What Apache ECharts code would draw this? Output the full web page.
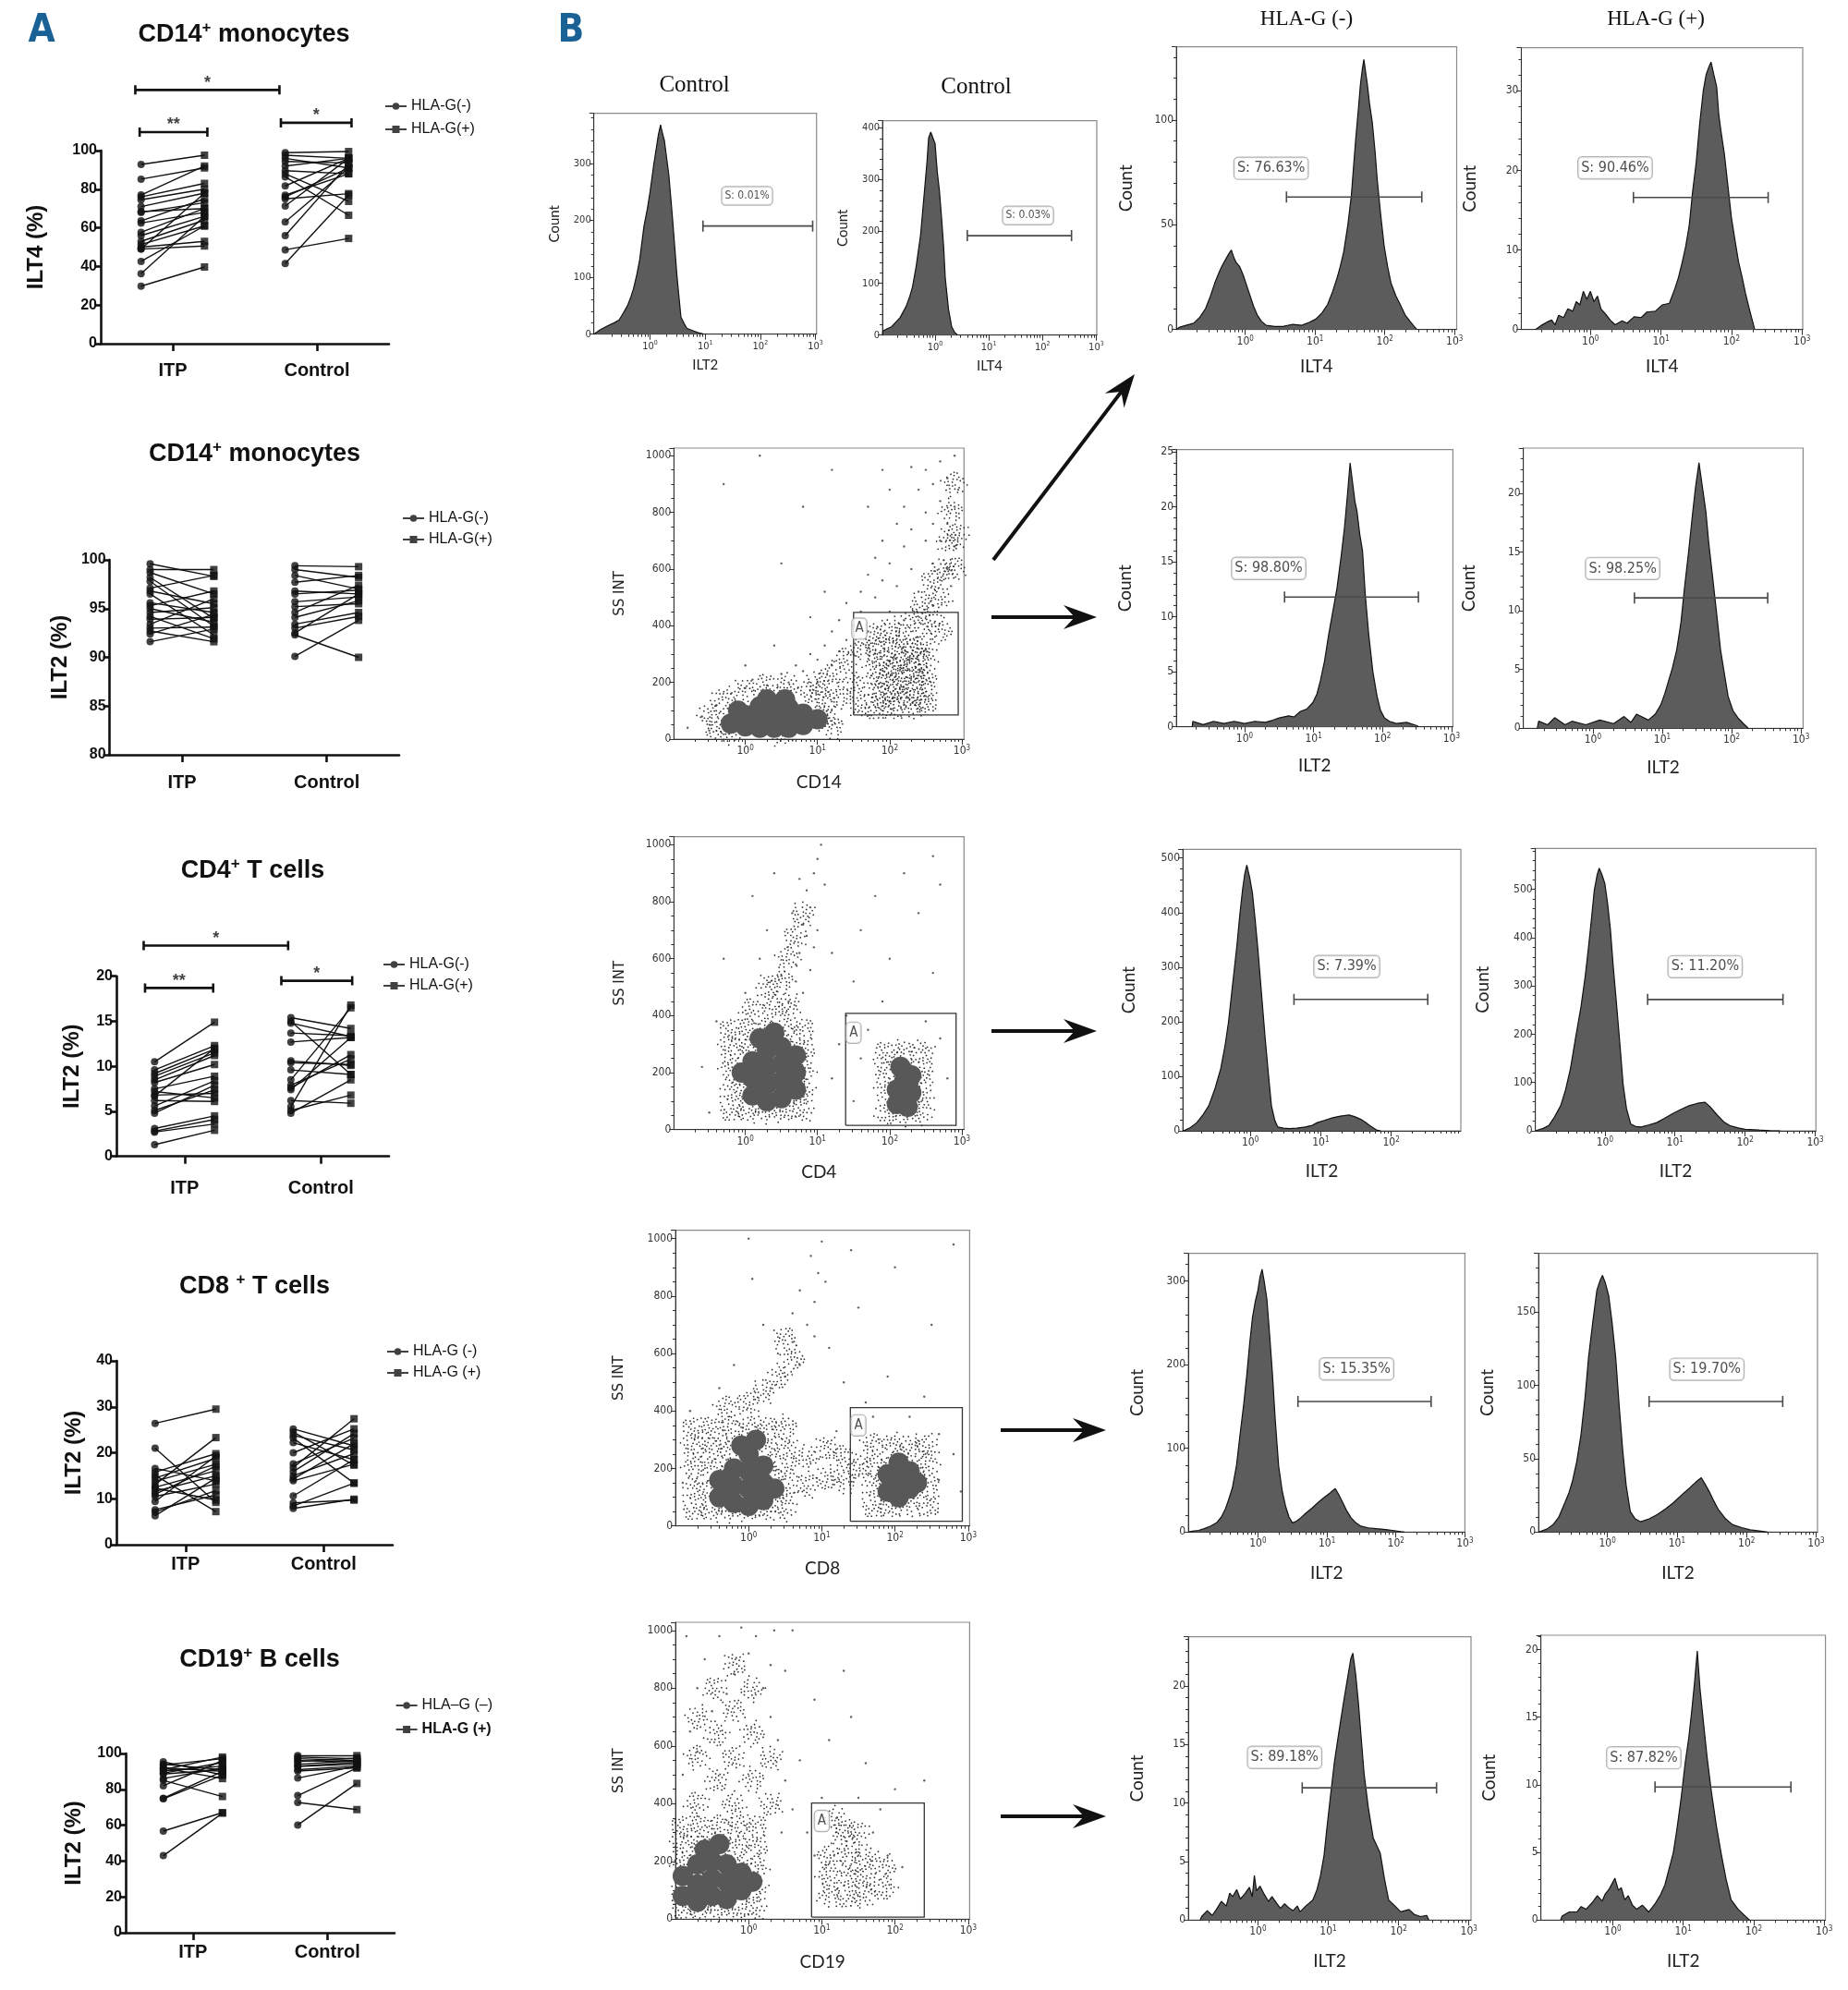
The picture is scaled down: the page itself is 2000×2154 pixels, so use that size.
<!DOCTYPE html>
<html>
<head>
<meta charset="utf-8">
<title>ILT2 / ILT4 expression</title>
<script src="https://cdn.jsdelivr.net/npm/echarts@6.0.0/dist/echarts.min.js"></script>
<style>html,body{margin:0;padding:0;background:#fff;}#chart{width:2000px;height:2154px;}</style>
</head>
<body>
<div id="chart"></div>
<script>
// ---------------- DATA ----------------
const groups = ['ITP', 'Control'];

// A: paired values, HLA-G(-) -> HLA-G(+) per subject
const ilt4Cd14ItpNeg = [92.8,85.2,77,76,74.5,71,68.4,68,63.6,62.5,57.7,56,53,51.4,50,49,49,42.6,36.2,29.8];
const ilt4Cd14ItpPos = [97.6,91,92,83,80,78,70,73,75,68,70,66,64,61,53,50.6,78,61,66,39.7];
const ilt4Cd14CtrlNeg = [98.9,97.6,96,94.4,92,89.6,88,86.4,81.7,76.9,76,75,71.3,63,56,48.6,41.5];
const ilt4Cd14CtrlPos = [99.5,96,91,93.6,96,88,73.7,66.5,96,88,91,77.7,96,91,93,54.5,77];
const ilt4Cd14Brackets = [[0.27,0.74,109.6,'**'],[1.25,1.74,114.4,'*'],[0.24,1.24,131.4,'*']];

const ilt2Cd14ItpNeg = [99.6,99,98.7,98.2,97.8,97.1,96.8,96.5,95.6,95.3,95,94.6,94.2,93.9,93.4,93,92.7,92.4,91.6];
const ilt2Cd14ItpPos = [98.3,99,96.5,94,93.2,98.4,95.5,92.3,94.6,96.8,93.6,95.1,91.9,94.1,96,93.1,91.6,94.4,92.9];
const ilt2Cd14CtrlNeg = [99.4,99,98.4,97.7,96.8,96.5,95.7,95.2,94.6,94.1,93.4,93,92.3,92.5,90.1];
const ilt2Cd14CtrlPos = [99.3,98.2,97,98.4,96.5,96.9,96.2,95.5,97.4,95.8,94.6,94.2,90,96.5,93.8];

const ilt2Cd4ItpNeg = [10.5,9.6,9.2,8.9,8.5,8.2,7.5,7.2,6.8,6.7,6.2,5.6,5.1,4.8,3.1,2.8,2.7,1.3];
const ilt2Cd4ItpPos = [14.9,12.3,11.9,11.5,11.2,10.2,8.9,6.5,7.0,12,6.1,8.4,7.4,7.9,4.5,4.1,3.6,2.9];
const ilt2Cd4CtrlNeg = [15.4,15,14.8,13.7,12.7,10.6,10.4,9.6,8.5,7.9,7.4,7.6,6.2,5.5,5.1,4.8];
const ilt2Cd4CtrlPos = [14.2,9.1,13.3,13.4,13.2,10.1,10.2,9.1,16.5,10.8,13.2,11.3,5.9,16.8,6.8,8.5];
const ilt2Cd4Brackets = [[0.21,0.71,18.7,'**'],[1.21,1.73,19.5,'*'],[0.2,1.26,23.4,'*']];

const ilt2Cd8ItpNeg = [26.4,21,16.6,15.8,15.1,14.5,13.8,13.1,12.5,12.3,11.6,11,10.5,9.4,7.6,7.1,6.3];
const ilt2Cd8ItpPos = [29.5,9.2,13.9,19.8,7.2,18.8,17.5,23.3,16.1,9.7,15,17.1,13.2,19.3,10.8,11.8,14.5];
const ilt2Cd8CtrlNeg = [25.2,24.5,23.8,23.2,22.2,20,17.6,16.8,15.9,15,14.3,13.9,10.6,9.1,8.4,7.9];
const ilt2Cd8CtrlPos = [21.5,17.3,20.6,13.4,18.5,25.2,23.2,27.4,24.2,19.8,22,17.5,18.5,9.7,13.4,9.9];

const ilt2Cd19ItpNeg = [95.4,94,93.6,92,91.9,91,90.2,89,88.5,86,85,82,75,74.7,56.7,43];
const ilt2Cd19ItpPos = [88,91,97.1,90,86,98,93,95,91,92,76,96,90,88,67,66.7];
const ilt2Cd19CtrlNeg = [98.8,98,97.1,96,95.4,94,93,92.8,91,90.2,86.3,76.5,72.7,60.1];
const ilt2Cd19CtrlPos = [98.8,97,96,95.4,97.5,96,95,94,93,92,93,92,68.7,83.3];

// B: histograms, [log10 fluorescence, count]
const ilt2ControlHist = [[-1.02,0],[-1,3],[-0.9,8],[-0.78,14],[-0.65,20],[-0.56,25],[-0.48,38],[-0.41,50],[-0.35,65],[-0.3,80],[-0.24,105],[-0.19,130],[-0.15,160],[-0.11,190],[-0.05,220],[0,250],[0.07,300],[0.11,325],[0.15,350],[0.19,368],[0.22,355],[0.26,340],[0.3,310],[0.34,280],[0.38,235],[0.41,200],[0.45,150],[0.49,100],[0.53,60],[0.56,30],[0.62,18],[0.67,10],[0.78,6],[0.86,3],[0.97,0]];
const ilt4ControlHist = [[-0.98,0],[-0.97,8],[-0.9,12],[-0.81,16],[-0.73,25],[-0.65,34],[-0.54,55],[-0.47,75],[-0.42,93],[-0.35,134],[-0.27,193],[-0.23,240],[-0.19,287],[-0.15,335],[-0.12,381],[-0.08,392],[-0.04,381],[0,370],[0.04,316],[0.08,280],[0.12,228],[0.16,170],[0.19,110],[0.25,50],[0.31,16],[0.36,6],[0.42,0]];
const ilt4Cd14NegHist = [[-0.99,0],[-0.95,1],[-0.85,2],[-0.74,3],[-0.65,6],[-0.57,10],[-0.5,16],[-0.44,22],[-0.38,27],[-0.34,30],[-0.29,33],[-0.24,36],[-0.2,38],[-0.16,34],[-0.13,32],[-0.08,30],[-0.03,26],[0.02,21],[0.07,16],[0.12,11],[0.17,7],[0.23,4],[0.3,2],[0.42,1.5],[0.54,1.5],[0.68,2.5],[0.81,2],[0.92,3.5],[1.01,5],[1.1,8],[1.18,12],[1.25,18],[1.31,24],[1.36,30],[1.41,37],[1.47,50],[1.52,64],[1.55,77],[1.58,90],[1.62,105],[1.65,117],[1.68,125],[1.7,129],[1.72,124],[1.75,117],[1.78,108],[1.82,99],[1.86,85],[1.89,72],[1.94,55],[1.99,40],[2.04,30],[2.09,22],[2.16,16],[2.22,12],[2.29,7],[2.36,4],[2.42,1.5],[2.46,0]];
const ilt4Cd14PosHist = [[-0.78,0],[-0.7,0.5],[-0.6,1],[-0.55,1.2],[-0.5,0.6],[-0.45,1.8],[-0.38,1.5],[-0.32,2.6],[-0.25,2.3],[-0.2,3.5],[-0.15,3.1],[-0.1,4.8],[-0.05,3.8],[0,4.8],[0.05,3.5],[0.1,4.2],[0.15,2.6],[0.22,1.9],[0.28,1.2],[0.35,0.6],[0.45,1.1],[0.52,0.8],[0.62,1.6],[0.72,1.5],[0.8,2.2],[0.92,2.3],[1.02,3.1],[1.12,3.3],[1.2,5.2],[1.25,6.6],[1.3,8.4],[1.35,10.4],[1.4,13],[1.45,17.4],[1.5,21],[1.55,25.9],[1.6,30],[1.64,32],[1.68,33],[1.71,33.6],[1.75,32],[1.79,30.5],[1.82,27],[1.85,25],[1.9,22],[1.95,18],[2,14],[2.05,11.2],[2.1,8.5],[2.15,6.6],[2.2,4.5],[2.25,2.7],[2.3,1],[2.33,0]];
const ilt2Cd14NegHist = [[-0.76,0],[-0.75,0.5],[-0.6,0.2],[-0.45,0.5],[-0.3,0.3],[-0.15,0.5],[0,0.3],[0.15,0.5],[0.3,0.4],[0.41,0.6],[0.5,0.8],[0.64,1],[0.72,0.9],[0.81,1.4],[0.9,1.6],[0.99,2.2],[1.05,3],[1.1,4.2],[1.16,6],[1.22,8.4],[1.28,10.5],[1.34,12.6],[1.4,15.5],[1.45,18.2],[1.49,21],[1.53,24],[1.57,22],[1.6,20.5],[1.63,19.6],[1.67,17.5],[1.71,16],[1.75,12],[1.8,8.4],[1.86,5],[1.92,2.8],[1.97,1.5],[2.03,0.8],[2.1,0.5],[2.2,0.3],[2.35,0.4],[2.5,0.1],[2.52,0]];
const ilt2Cd14PosHist = [[-0.8,0],[-0.78,0.6],[-0.65,0.3],[-0.55,0.9],[-0.4,0.3],[-0.3,0.6],[-0.1,0.3],[0.1,0.7],[0.3,0.4],[0.45,1],[0.55,0.5],[0.63,1.2],[0.8,0.7],[0.9,1.2],[0.98,2],[1.04,3],[1.09,4],[1.15,5.2],[1.21,6.7],[1.27,9],[1.32,11.9],[1.38,15],[1.44,18.4],[1.48,20.5],[1.53,22.6],[1.58,20.5],[1.63,18.4],[1.67,15.8],[1.72,13.2],[1.78,10],[1.84,6.7],[1.9,4.5],[1.95,2.7],[2.02,1.5],[2.09,0.9],[2.17,0.4],[2.24,0]];
const ilt2Cd4NegHist = [[-0.96,0],[-0.93,1],[-0.85,6],[-0.76,15],[-0.68,28],[-0.59,46],[-0.5,78],[-0.42,114],[-0.36,155],[-0.31,199],[-0.25,270],[-0.19,340],[-0.15,395],[-0.11,442],[-0.08,470],[-0.05,487],[-0.01,465],[0.03,436],[0.07,385],[0.11,329],[0.16,250],[0.21,171],[0.26,100],[0.3,46],[0.35,18],[0.39,7],[0.47,5],[0.55,4],[0.66,5],[0.78,7],[0.88,10],[0.95,15],[1.05,19],[1.17,24],[1.28,27],[1.4,29],[1.48,26],[1.57,21],[1.63,16],[1.69,10],[1.75,5],[1.8,1],[1.85,0]];
const ilt2Cd4PosHist = [[-0.99,0],[-0.97,1],[-0.88,5],[-0.8,11],[-0.72,28],[-0.63,52],[-0.56,85],[-0.49,129],[-0.42,190],[-0.34,257],[-0.28,320],[-0.23,384],[-0.19,440],[-0.15,499],[-0.11,530],[-0.08,544],[-0.04,530],[0,512],[0.04,470],[0.08,416],[0.12,340],[0.17,257],[0.22,170],[0.26,97],[0.31,45],[0.37,14],[0.44,9],[0.52,8],[0.62,12],[0.74,17],[0.85,26],[0.97,36],[1.08,44],[1.2,52],[1.32,57],[1.43,59],[1.5,50],[1.6,33],[1.7,18],[1.78,11],[1.9,6],[2,3],[2.2,1.5],[2.35,0.5],[2.5,0]];
const ilt2Cd8NegHist = [[-1.01,0],[-0.95,1],[-0.86,2],[-0.78,4],[-0.69,7],[-0.6,11],[-0.53,18],[-0.47,28],[-0.42,40],[-0.37,53],[-0.31,80],[-0.26,116],[-0.21,150],[-0.16,189],[-0.12,225],[-0.08,256],[-0.04,275],[0,289],[0.03,305],[0.06,314],[0.09,300],[0.13,278],[0.17,235],[0.21,189],[0.25,135],[0.3,79],[0.35,50],[0.4,31],[0.45,18],[0.5,11],[0.56,13],[0.62,17],[0.7,23],[0.79,29],[0.88,36],[0.97,42],[1.05,47],[1.12,52],[1.17,45],[1.23,35],[1.29,25],[1.35,17],[1.42,11],[1.49,7],[1.6,5],[1.72,4],[1.85,3],[1.95,2],[2.07,0.5],[2.12,0]];
const ilt2Cd8PosHist = [[-0.99,0],[-0.96,0.4],[-0.87,2],[-0.78,5],[-0.7,10],[-0.61,20],[-0.55,27],[-0.5,35],[-0.44,48],[-0.38,66],[-0.32,92],[-0.27,119],[-0.21,143],[-0.15,165],[-0.1,172],[-0.07,175],[-0.03,170],[0.02,161],[0.07,142],[0.12,119],[0.17,86],[0.22,56],[0.27,32],[0.33,14],[0.4,9],[0.48,7],[0.6,9],[0.72,12],[0.84,16],[0.95,20],[1.06,25],[1.18,30],[1.27,34],[1.35,37],[1.4,33],[1.46,28],[1.52,22],[1.6,15],[1.7,9],[1.8,5],[1.93,3],[2.05,1.5],[2.21,0.6],[2.3,0]];
const ilt2Cd19NegHist = [[-0.82,0],[-0.8,0.3],[-0.72,0.8],[-0.65,0.4],[-0.59,0.9],[-0.52,1.6],[-0.45,1.2],[-0.4,2.3],[-0.36,2],[-0.3,2.6],[-0.25,1.8],[-0.19,2.2],[-0.12,2.8],[-0.08,2],[-0.05,3.8],[-0.02,2.5],[0.03,2.9],[0.09,2.2],[0.15,1.6],[0.2,2],[0.26,1.5],[0.32,1],[0.38,1.4],[0.43,1.1],[0.5,0.8],[0.56,1.2],[0.6,0.7],[0.68,1.2],[0.78,1.7],[0.84,2.6],[0.89,3.8],[0.94,5.5],[0.98,7.8],[1.03,10.5],[1.09,13.6],[1.15,16],[1.21,18.3],[1.27,20.5],[1.32,22.3],[1.35,22.8],[1.39,21],[1.43,18.5],[1.46,16.2],[1.51,12.5],[1.57,9.6],[1.64,7],[1.74,5.7],[1.8,3.5],[1.86,1.7],[1.95,1.2],[2.03,0.7],[2.15,0.9],[2.22,0.5],[2.31,0.3],[2.4,0.4],[2.43,0]];
const ilt2Cd19PosHist = [[-0.74,0],[-0.72,0.3],[-0.62,0.6],[-0.51,0.6],[-0.45,1],[-0.38,0.8],[-0.29,1.3],[-0.22,1.8],[-0.15,1.4],[-0.11,1.9],[-0.05,2.3],[0.03,3.1],[0.08,2.2],[0.12,2.4],[0.17,1.5],[0.22,1.8],[0.28,1.1],[0.34,0.8],[0.42,1.1],[0.51,0.6],[0.6,1.2],[0.68,1.9],[0.74,2.6],[0.8,3.8],[0.86,5],[0.91,6.7],[0.97,9],[1.03,11.7],[1.08,13.5],[1.12,15.4],[1.16,17.5],[1.2,19.9],[1.24,17],[1.29,14.5],[1.34,12],[1.4,9.5],[1.47,7],[1.54,4.9],[1.61,3],[1.68,1.5],[1.78,0.8],[1.88,0.3],[1.94,0]];

// histogram gates [from, to, count] and gate labels [x, count, text]
const histGates = [[0.96,2.95,190],[0.6,2.54,192],[0.59,2.53,63.3],[0.61,2.52,16.6],[0.58,2.52,11.8],[0.6,2.52,11.1],[0.62,2.52,241],[0.61,2.54,272],[0.58,2.51,156],[0.6,2.52,89],[0.63,2.54,11.3],[0.6,2.53,9.84]];
const histGateLabels = [[1.76,243,'S: 0.01%'],[1.73,231,'S: 0.03%'],[0.37,77,'S: 76.63%'],[0.35,20.3,'S: 90.46%'],[0.35,14.4,'S: 98.80%'],[0.43,13.6,'S: 98.25%'],[1.37,301,'S: 7.39%'],[1.43,340,'S: 11.20%'],[1.43,195,'S: 15.35%'],[1.43,111,'S: 19.70%'],[0.38,13.9,'S: 89.18%'],[0.44,12,'S: 87.82%']];

// B: side-scatter dot plots [log10 marker, SS INT]; core = solid blob, haze = dense speckle, sparse = single events
const cd14DotCore = [[-0.2,55],[0,45],[0,85],[0.2,40],[0.2,80],[0.2,115],[0.4,40],[0.4,75],[0.4,110],[0.6,40],[0.6,75],[0.6,110],[0.8,50],[0.8,90],[1.0,70],[-0.1,100],[0.3,140],[0.55,140]];
const cd14DotHaze = [[1.8,110],[1.8,180],[1.8,250],[1.8,320],[2.05,110],[2.05,180],[2.05,250],[2.05,320],[2.3,110],[2.3,180],[2.3,250],[2.3,320],[2.5,130],[2.5,200],[2.5,270],[2.5,340],[1.9,145],[1.9,215],[1.9,285],[2.15,145],[2.15,215],[2.15,285],[2.4,145],[2.4,215],[2.4,285],[2.55,420],[2.7,500],[2.75,600],[2.8,700],[2.85,800],[2.9,900],[2.6,560],[2.45,480],[2.3,420],[2.7,380],[2.9,600],[2.95,720],[2.2,360],[2.0,390],[1.8,370],[1.6,320],[1.4,280],[1.2,230],[1.0,200],[1.5,200],[1.3,150],[1.1,130],[1.6,120],[-0.4,40],[-0.5,90],[-0.3,140],[0,170],[0.3,190],[0.6,190],[0.9,170],[1.1,80],[1.2,40],[-0.2,25],[0.5,20]];
const cd14DotSparse = [[-0.8,40],[-0.6,80],[-0.5,30],[-0.4,120],[-0.2,160],[0,180],[0.1,210],[0.3,190],[0.5,230],[0.6,200],[0.7,260],[0.8,240],[0.9,300],[1.0,280],[1.0,200],[1.1,330],[1.2,260],[1.2,380],[1.3,310],[1.3,420],[1.4,350],[1.4,480],[1.5,400],[1.5,300],[1.6,520],[1.6,450],[1.7,380],[1.7,580],[1.8,500],[1.8,640],[1.9,560],[1.9,700],[2.0,620],[2.0,450],[2.1,760],[2.1,540],[2.2,680],[2.2,820],[2.3,600],[2.3,740],[2.4,880],[2.4,520],[2.5,700],[2.5,800],[2.5,950],[2.6,620],[2.6,760],[2.6,900],[2.7,700],[2.7,840],[2.7,980],[2.8,600],[2.8,760],[2.8,920],[2.9,820],[2.9,1000],[2.9,680],[2.3,960],[2.0,880],[1.7,820],[0.8,820],[1.2,950],[0.2,1000],[0.5,620],[-0.3,900],[0.9,430],[1.1,520],[1.9,950],[2.95,880],[2.85,540],[2.6,470],[2.2,420],[0.4,330],[0.0,260]];

const cd4DotCore = [[0.1,120],[0.1,180],[0.1,240],[0.3,100],[0.3,160],[0.3,220],[0.3,280],[0.5,110],[0.5,170],[0.5,230],[0.5,290],[0.7,140],[0.7,200],[0.7,260],[-0.05,200],[0.2,320],[0.4,340],[2.1,90],[2.1,140],[2.2,110],[2.2,170],[2.3,130],[2.3,190],[2.15,220],[2.25,80]];
const cd4DotHaze = [[-0.2,70],[-0.2,140],[-0.2,210],[-0.2,280],[-0.2,350],[0.05,70],[0.05,140],[0.05,210],[0.05,280],[0.05,350],[0.3,70],[0.3,140],[0.3,210],[0.3,280],[0.3,350],[0.55,70],[0.55,140],[0.55,210],[0.55,280],[0.55,350],[0.8,70],[0.8,140],[0.8,210],[0.8,280],[0.8,350],[0.1,420],[0.4,430],[0.6,440],[0.3,500],[0.5,520],[0.6,600],[0.7,680],[0.8,760],[1.95,60],[1.95,130],[1.95,200],[1.95,270],[2.2,60],[2.2,130],[2.2,200],[2.2,270],[2.45,60],[2.45,130],[2.45,200],[2.45,270]];
const cd4DotSparse = [[0.6,450],[0.7,520],[0.8,480],[0.9,560],[0.75,620],[0.85,680],[0.95,640],[0.8,720],[0.9,780],[1.0,700],[0.85,840],[0.95,900],[1.0,950],[1.05,1000],[0.7,580],[0.65,760],[1.1,860],[0.75,880],[0.5,540],[1.2,620],[-0.5,60],[-0.6,220],[-0.4,380],[0.0,480],[0.2,600],[0.3,700],[1.4,400],[1.5,520],[1.6,700],[1.8,820],[2.0,600],[2.2,900],[2.4,760],[2.6,550],[2.7,860],[1.3,300],[1.6,250],[2.7,320],[2.8,180],[1.5,100],[2.6,960],[0.4,900],[1.9,450],[2.5,380],[1.2,180],[1.7,350],[-0.3,600],[0.1,820]];

const cd8DotCore = [[-0.4,100],[-0.4,160],[-0.2,80],[-0.2,140],[-0.2,200],[0,70],[0,130],[0,190],[0,250],[0.2,90],[0.2,150],[0.2,210],[0.35,130],[-0.1,280],[0.1,300],[1.9,120],[1.9,180],[2.05,100],[2.05,160],[2.05,220],[2.2,130],[2.2,190],[2.3,150]];
const cd8DotHaze = [[-0.75,60],[-0.75,130],[-0.75,200],[-0.75,270],[-0.75,340],[-0.5,60],[-0.5,130],[-0.5,200],[-0.5,270],[-0.5,340],[-0.25,60],[-0.25,130],[-0.25,200],[-0.25,270],[-0.25,340],[0,60],[0,130],[0,200],[0,270],[0,340],[0.25,60],[0.25,130],[0.25,200],[0.25,270],[0.25,340],[0.5,60],[0.5,130],[0.5,200],[0.5,270],[0.5,340],[-0.3,410],[0,430],[0.2,470],[0.4,520],[0.6,580],[0.5,650],[0.8,140],[0.8,240],[1.05,170],[1.05,270],[1.3,150],[1.3,240],[1.5,200],[1.7,70],[1.7,140],[1.7,210],[1.7,280],[1.95,70],[1.95,140],[1.95,210],[1.95,280],[2.2,70],[2.2,140],[2.2,210],[2.2,280],[2.45,70],[2.45,140],[2.45,210],[2.45,280]];
const cd8DotSparse = [[0.3,480],[0.5,520],[0.7,560],[0.6,640],[0.8,700],[0.9,780],[0.7,820],[0.95,880],[0.85,940],[1.0,990],[0.9,660],[0.6,740],[1.05,850],[0.4,600],[0.2,700],[0.05,860],[-0.2,560],[-0.4,480],[1.3,500],[1.6,430],[1.9,520],[2.2,380],[2.4,450],[2.6,320],[2.8,250],[2.9,120],[1.1,620],[1.5,760],[2.0,900],[2.5,700],[2.8,980],[-0.8,400],[-0.9,150],[0.0,1000],[1.4,960],[1.2,330],[1.7,380],[2.6,160]];

const cd19DotCore = [[-0.9,80],[-0.9,150],[-0.7,60],[-0.7,120],[-0.7,190],[-0.5,80],[-0.5,140],[-0.5,200],[-0.3,70],[-0.3,130],[-0.3,190],[-0.1,100],[-0.1,160],[0.05,130],[-0.6,240],[-0.4,260]];
const cd19DotHaze = [[-0.9,40],[-0.9,110],[-0.9,180],[-0.9,250],[-0.9,320],[-0.65,40],[-0.65,110],[-0.65,180],[-0.65,250],[-0.65,320],[-0.4,40],[-0.4,110],[-0.4,180],[-0.4,250],[-0.4,320],[-0.15,40],[-0.15,110],[-0.15,180],[-0.15,250],[-0.15,320],[0.1,40],[0.1,110],[0.1,180],[0.1,250],[0.1,320],[-0.7,400],[-0.2,400],[0.3,400],[-0.45,480],[0.05,480],[-0.7,560],[-0.2,560],[0.3,560],[-0.45,640],[0.05,640],[-0.2,720],[-0.45,800],[0.05,800],[-0.7,700],[-0.2,880],[1.1,80],[1.1,150],[1.1,220],[1.35,80],[1.35,150],[1.35,220],[1.6,80],[1.6,150],[1.6,220],[1.85,110],[1.85,180],[1.3,290],[1.5,300],[1.2,350]];
const cd19DotSparse = [[-0.9,500],[-0.8,650],[-0.7,800],[-0.6,900],[-0.5,720],[-0.4,980],[-0.2,850],[0,920],[0.2,800],[0.3,700],[0.4,620],[0.5,480],[0.6,380],[0.8,300],[0.9,220],[0.5,860],[0.6,1000],[-0.1,1010],[0.1,980],[0.3,880],[-0.3,780],[-0.7,580],[0.45,300],[0.7,550],[1.0,420],[1.2,350],[1.5,420],[1.7,300],[1.9,220],[2.1,180],[1.1,620],[1.4,700],[1.6,540],[2.0,450],[2.4,480],[1.3,860],[0.9,760],[-0.85,980],[0.35,1000],[1.8,380]];

// dot-plot gates [x1, x2, ss1, ss2] and 'A' label [x, ss]
const dotGates = [[1.5,2.95,85,447],[1.39,2.92,15,408],[1.39,2.92,16,412],[0.86,2.4,7,402]];
const dotGateLabels = [[1.58,390],[1.5,340],[1.5,350],[1.0,340]];

// ---------------- STYLE / LAYOUT ----------------
const FA = '"Liberation Sans", Arial, Helvetica, sans-serif';
const FN = '"Liberation Sans Narrow", "DejaVu Sans Condensed", "Liberation Sans", sans-serif';
const FG = 'Lato, "Open Sans", "Liberation Sans", sans-serif';
const FT = '"Liberation Serif", "Times New Roman", serif';
const INK = '#111';
const BLUE = '#1a6196';
const OFF = 0.22;

const pairedLayout = [
  {left:109, top:163, width:312, height:209, catMargin:19, yNameGap:58, legendLeft:417, legendTop:107, legendGap:9, titleX:264, titleY:38},
  {left:118.6, top:606, width:313.4, height:211, catMargin:20, yNameGap:41, legendLeft:436, legendTop:553, legendGap:7, titleX:275.5, titleY:492},
  {left:126, top:1056.7, width:295, height:195, catMargin:25, yNameGap:36, legendLeft:415, legendTop:1036, legendGap:7, titleX:273.6, titleY:943},
  {left:126, top:1473, width:299, height:199, catMargin:11, yNameGap:34, legendLeft:419, legendTop:1455, legendGap:7, titleX:275.5, titleY:1393},
  {left:136, top:1898, width:291, height:194, catMargin:11, yNameGap:44, legendLeft:428.6, legendTop:1838, legendGap:10, titleX:281, titleY:1797}
];
const pairedPanels = [
  {title:'CD14{sup|+} monocytes', yName:'ILT4 (%)', y:[0,100,20], legend:['HLA-G(-)','HLA-G(+)'], itp:[ilt4Cd14ItpNeg, ilt4Cd14ItpPos], ctrl:[ilt4Cd14CtrlNeg, ilt4Cd14CtrlPos], brackets:ilt4Cd14Brackets},
  {title:'CD14{sup|+} monocytes', yName:'ILT2 (%)', y:[80,100,5], legend:['HLA-G(-)','HLA-G(+)'], itp:[ilt2Cd14ItpNeg, ilt2Cd14ItpPos], ctrl:[ilt2Cd14CtrlNeg, ilt2Cd14CtrlPos], brackets:[]},
  {title:'CD4{sup|+} T cells', yName:'ILT2 (%)', y:[0,20,5], legend:['HLA-G(-)','HLA-G(+)'], itp:[ilt2Cd4ItpNeg, ilt2Cd4ItpPos], ctrl:[ilt2Cd4CtrlNeg, ilt2Cd4CtrlPos], brackets:ilt2Cd4Brackets},
  {title:'CD8 {sup|+} T cells', yName:'ILT2 (%)', y:[0,40,10], legend:['HLA-G (-)','HLA-G (+)'], itp:[ilt2Cd8ItpNeg, ilt2Cd8ItpPos], ctrl:[ilt2Cd8CtrlNeg, ilt2Cd8CtrlPos], brackets:[]},
  {title:'CD19{sup|+} B cells', yName:'ILT2 (%)', y:[0,100,20], legend:['HLA\u2013G (\u2013)','HLA-G (+)'], boldPlus:true, itp:[ilt2Cd19ItpNeg, ilt2Cd19ItpPos], ctrl:[ilt2Cd19CtrlNeg, ilt2Cd19CtrlPos], brackets:[]}
];

const histLayout = [
  {left:642.7, top:122.7, width:241, height:239, xMin:-1.02, xMax:3.02, yMax:388, yInt:100, yNameGap:35, xNameGap:26, small:true},
  {left:955, top:130.7, width:232, height:232, xMin:-0.98, xMax:3.01, yMax:414, yInt:100, yNameGap:35, xNameGap:26, small:true},
  {left:1273, top:50.7, width:303.5, height:306, xMin:-0.99, xMax:3.03, yMax:135, yInt:50, yNameGap:45, xNameGap:31},
  {left:1646.4, top:51.7, width:304.6, height:305, xMin:-0.98, xMax:3.01, yMax:35.4, yInt:10, yNameGap:46, xNameGap:31},
  {left:1273, top:486.7, width:299.4, height:300, xMin:-0.99, xMax:3.02, yMax:25.2, yInt:5, yNameGap:46, xNameGap:33},
  {left:1648.7, top:485, width:302.7, height:303.3, xMin:-1.0, xMax:3.03, yMax:23.85, yInt:5, yNameGap:49, xNameGap:33},
  {left:1280, top:919.3, width:301, height:304.7, xMin:-0.96, xMax:2.99, yMax:516, yInt:100, yNameGap:49, xNameGap:34},
  {left:1661.7, top:918.3, width:303.6, height:305.7, xMin:-0.99, xMax:3.01, yMax:585, yInt:100, yNameGap:47, xNameGap:34},
  {left:1286, top:1356.7, width:299.4, height:301.6, xMin:-1.01, xMax:3.0, yMax:333, yInt:100, yNameGap:46, xNameGap:35},
  {left:1665, top:1356.7, width:302, height:301.6, xMin:-0.99, xMax:3.02, yMax:190, yInt:50, yNameGap:46, xNameGap:35},
  {left:1286, top:1771.7, width:306, height:306.6, xMin:-0.99, xMax:3.03, yMax:24.2, yInt:5, yNameGap:46, xNameGap:35},
  {left:1667.7, top:1770, width:307.9, height:308.3, xMin:-1.02, xMax:3.02, yMax:21.06, yInt:5, yNameGap:46, xNameGap:35}
];
const histPanels = [
  {xName:'ILT2', data:ilt2ControlHist}, {xName:'ILT4', data:ilt4ControlHist},
  {xName:'ILT4', data:ilt4Cd14NegHist}, {xName:'ILT4', data:ilt4Cd14PosHist},
  {xName:'ILT2', data:ilt2Cd14NegHist}, {xName:'ILT2', data:ilt2Cd14PosHist},
  {xName:'ILT2', data:ilt2Cd4NegHist}, {xName:'ILT2', data:ilt2Cd4PosHist},
  {xName:'ILT2', data:ilt2Cd8NegHist}, {xName:'ILT2', data:ilt2Cd8PosHist},
  {xName:'ILT2', data:ilt2Cd19NegHist}, {xName:'ILT2', data:ilt2Cd19PosHist}
];

const dotLayout = [
  {left:729.3, top:485, width:314, height:315, xMin:-0.99, xMax:3.03, yMax:1027, yNameGap:51, xNameGap:37},
  {left:729.3, top:905.7, width:314, height:317, xMin:-0.99, xMax:3.03, yMax:1028, yNameGap:51, xNameGap:37},
  {left:731, top:1331.7, width:318.4, height:320, xMin:-1.0, xMax:3.02, yMax:1029, yNameGap:53, xNameGap:37},
  {left:731, top:1756, width:318.4, height:321.3, xMin:-1.0, xMax:3.02, yMax:1028, yNameGap:53, xNameGap:37}
];
const dotPanels = [
  {xName:'CD14', core:cd14DotCore, haze:cd14DotHaze, sparse:cd14DotSparse},
  {xName:'CD4', core:cd4DotCore, haze:cd4DotHaze, sparse:cd4DotSparse},
  {xName:'CD8', core:cd8DotCore, haze:cd8DotHaze, sparse:cd8DotSparse},
  {xName:'CD19', core:cd19DotCore, haze:cd19DotHaze, sparse:cd19DotSparse}
];

// speckle marker shape (a patch of tiny event dots) used for dense regions
const SPECKLE_OFFSETS = [[0,3],[3.5,9.5],[6.5,0],[8.5,14],[11.5,5.5],[14.5,11],[18.5,1.5],[2.5,17],[12.5,18.5],[16.5,15.5],[5.5,12],[9.5,8.5],[1.5,6.5],[19,8.5],[7.5,4.5],[13.5,14.5],[17,5],[4.5,19],[10.5,12],[15.5,8],[19,18.5],[6,16.5],[11,1.5],[3,13],[8,19],[16,12],[0.5,10],[12,9]];
const SPECKLE = 'path://' + SPECKLE_OFFSETS.map(function(p){ return 'M' + p[0] + ',' + p[1] + 'h1.3v1.3h-1.3Z'; }).join(' ');

// ---------------- BUILD ----------------
const option = {backgroundColor:'#ffffff', animation:false, grid:[], xAxis:[], yAxis:[], series:[], legend:[], graphic:{elements:[]}};
const G = option.graphic.elements;

function addText(x, y, t, style) {
  G.push({type:'text', x:x, y:y, silent:true, z:20,
    style:Object.assign({text:t, fill:INK, align:'center', verticalAlign:'middle'}, style)});
}
function addGrid(P, framed) {
  option.grid.push({left:P.left, top:P.top, width:P.width, height:P.height, show:!!framed,
    borderColor:'#8a8a8a', borderWidth:1.2, backgroundColor:'transparent'});
  return option.grid.length - 1;
}
const ICON_C = 'path://M0,3.4H23V5.6H0Z M15.3,4.5A3.8,3.8,0,1,1,7.7,4.5A3.8,3.8,0,1,1,15.3,4.5Z';
const ICON_S = 'path://M0,3.4H23V5.6H0Z M7.5,0.5H15.5V8.5H7.5Z';

function pairedPanel(P, D) {
  const gi = addGrid(P, false);
  const xi = option.xAxis.length, yi = option.yAxis.length;
  option.xAxis.push({type:'value', gridIndex:gi, min:0, max:2,
    axisLine:{onZero:false, lineStyle:{color:INK, width:2.6}},
    axisTick:{show:true, customValues:[0.5,1.5], length:8, lineStyle:{color:INK, width:2.6}},
    axisLabel:{customValues:[0.5,1.5], formatter:function(v){return groups[v < 1 ? 0 : 1];},
      fontFamily:FA, fontWeight:'bold', fontSize:20, color:INK, margin:P.catMargin},
    splitLine:{show:false}});
  option.yAxis.push({type:'value', gridIndex:gi, min:D.y[0], max:D.y[1], interval:D.y[2],
    name:D.yName, nameLocation:'middle', nameRotate:90, nameGap:P.yNameGap,
    nameTextStyle:{fontFamily:FA, fontWeight:'bold', fontSize:24, color:INK},
    axisLine:{show:true, onZero:false, lineStyle:{color:INK, width:2.6}},
    axisTick:{show:true, length:7, lineStyle:{color:INK, width:2.6}},
    axisLabel:{fontFamily:FA, fontWeight:'bold', fontSize:16, color:INK, margin:4},
    splitLine:{show:false}});
  const segs = [], negPts = [], posPts = [];
  [[D.itp, 0.5], [D.ctrl, 1.5]].forEach(function(g){
    const c = g[1];
    g[0][0].forEach(function(v, i){
      const w = g[0][1][i];
      segs.push({coords:[[c - OFF, v], [c + OFF, w]]});
      negPts.push([c - OFF, v]);
      posPts.push([c + OFF, w]);
    });
  });
  option.series.push({type:'lines', coordinateSystem:'cartesian2d', xAxisIndex:xi, yAxisIndex:yi,
    data:segs, lineStyle:{color:INK, width:1.4, opacity:1}, silent:true, z:2});
  option.series.push({type:'scatter', name:D.legend[0], xAxisIndex:xi, yAxisIndex:yi, data:negPts,
    symbol:'circle', symbolSize:8, itemStyle:{color:INK}, silent:true, z:3});
  option.series.push({type:'scatter', name:D.legend[1], xAxisIndex:xi, yAxisIndex:yi, data:posPts,
    symbol:'rect', symbolSize:8, itemStyle:{color:INK}, silent:true, z:3});
  const cap = 5 * (D.y[1] - D.y[0]) / P.height;
  D.brackets.forEach(function(b){
    option.series.push({type:'lines', coordinateSystem:'cartesian2d', xAxisIndex:xi, yAxisIndex:yi, polyline:true, clip:false,
      data:[{coords:[[b[0], b[2]+cap],[b[0], b[2]-cap],[b[0], b[2]],[b[1], b[2]],[b[1], b[2]+cap],[b[1], b[2]-cap]]}],
      lineStyle:{color:INK, width:2.6, opacity:1}, silent:true, z:3});
    option.series.push({type:'scatter', xAxisIndex:xi, yAxisIndex:yi, clip:false, data:[[(b[0]+b[1])/2, b[2]]],
      symbolSize:1, itemStyle:{color:'rgba(0,0,0,0)'}, silent:true, z:3,
      label:{show:true, position:'top', distance:-2, formatter:b[3], fontFamily:FA, fontWeight:'bold', fontSize:18, color:INK}});
  });
  option.legend.push({orient:'vertical', left:P.legendLeft, top:P.legendTop, itemWidth:23, itemHeight:9,
    itemGap:P.legendGap, selectedMode:false, padding:0, itemStyle:{color:INK},
    textStyle:{fontFamily:FA, fontSize:16, color:INK},
    data:[{name:D.legend[0], icon:ICON_C}, {name:D.legend[1], icon:ICON_S, textStyle: D.boldPlus ? {fontWeight:'bold'} : {}}]});
  addText(P.titleX, P.titleY, D.title, {fontFamily:FA, fontWeight:'bold', fontSize:27, lineHeight:32,
    rich:{sup:{fontFamily:FA, fontWeight:'bold', fontSize:17, lineHeight:32, verticalAlign:'top', padding:[0,0,12,0]}}});
}

const MINOR_LOG = [];
for (let k = -1; k < 3; k++) for (let m = 2; m < 10; m++) MINOR_LOG.push(k + Math.log10(m));

function logXAxes(gi, P, name, small) {
  const xi = option.xAxis.length;
  option.xAxis.push({type:'value', gridIndex:gi, position:'bottom', min:P.xMin, max:P.xMax,
    name:name, nameLocation:'middle', nameGap:P.xNameGap,
    nameTextStyle:{fontFamily:FG, fontSize: small ? 15 : 19, color:'#222'},
    axisLine:{onZero:false, lineStyle:{color:'#333', width:1}},
    axisTick:{show:true, customValues:[0,1,2,3], length:6, lineStyle:{color:'#333', width:1}},
    axisLabel:{customValues:[0,1,2,3], formatter:function(v){return '10{s|' + v + '}';},
      fontFamily:FN, fontSize: small ? 11 : 12, color:'#333', margin:6, lineHeight:14,
      rich:{s:{fontFamily:FN, fontSize: small ? 7 : 8, lineHeight:14, verticalAlign:'top', padding:[0,0,5,0]}}},
    splitLine:{show:false}});
  option.xAxis.push({type:'value', gridIndex:gi, position:'bottom', min:P.xMin, max:P.xMax,
    axisLine:{show:false},
    axisTick:{show:true, customValues:MINOR_LOG.filter(function(v){return v > P.xMin && v < P.xMax;}), length:3, lineStyle:{color:'#333', width:1}},
    axisLabel:{show:false}, splitLine:{show:false}});
  return xi;
}
function valueYAxis(gi, P, max, interval, name, nameStyle, small, minorSplit) {
  option.yAxis.push({type:'value', gridIndex:gi, min:0, max:max, interval:interval,
    name:name, nameLocation:'middle', nameRotate:90, nameGap:P.yNameGap, nameTextStyle:nameStyle,
    axisLine:{show:true, onZero:false, lineStyle:{color:'#333', width:1}},
    axisTick:{show:true, length:5, lineStyle:{color:'#333'}},
    minorTick:{show:true, splitNumber:minorSplit, length:3, lineStyle:{color:'#333'}},
    axisLabel:{fontFamily:FN, fontSize: small ? 11 : 12, color:'#333', margin:3, showMaxLabel:false,
      formatter:function(v){ return String(v); }},
    splitLine:{show:false}, minorSplitLine:{show:false}});
  return option.yAxis.length - 1;
}
function boxLabel(xi, yi, x, y, text, size) {
  option.series.push({type:'scatter', xAxisIndex:xi, yAxisIndex:yi, data:[[x, y]], symbolSize:1,
    itemStyle:{color:'rgba(0,0,0,0)'}, silent:true, z:6, clip:false,
    label:{show:true, position:'inside', formatter:text, fontFamily:FN, fontSize:size, color:'#222',
      backgroundColor:'#fff', borderColor:'#a0a0a0', borderWidth:1.2, borderRadius:4, padding:[4,3,3,3]}});
}

function histPanel(P, D, gate, gl) {
  const gi = addGrid(P, true);
  const xi = logXAxes(gi, P, D.xName, P.small);
  const yi = valueYAxis(gi, P, P.yMax, P.yInt, 'Count', {fontFamily:FG, fontSize: P.small ? 15 : 19, color:'#222'}, P.small, 5);
  option.series.push({type:'line', xAxisIndex:xi, yAxisIndex:yi, data:D.data, symbol:'none',
    lineStyle:{color:'#111', width:1.2}, areaStyle:{color:'#5c5c5c', opacity:1}, silent:true, z:2});
  const cap = 6 * P.yMax / P.height;
  option.series.push({type:'lines', coordinateSystem:'cartesian2d', xAxisIndex:xi, yAxisIndex:yi, polyline:true,
    data:[{coords:[[gate[0], gate[2]+cap],[gate[0], gate[2]-cap],[gate[0], gate[2]],[gate[1], gate[2]],[gate[1], gate[2]+cap],[gate[1], gate[2]-cap]]}],
    lineStyle:{color:'#4a4a4a', width:1.6, opacity:1}, silent:true, z:4});
  boxLabel(xi, yi, gl[0], gl[1], gl[2], P.small ? 12 : 16);
}

function dotPanel(P, D, gate, al) {
  const gi = addGrid(P, true);
  const xi = logXAxes(gi, P, D.xName, false);
  const yi = valueYAxis(gi, P, P.yMax, 200, 'SS INT', {fontFamily:'"DejaVu Sans", sans-serif', fontSize:15, color:'#222'}, false, 4);
  option.series.push({type:'scatter', xAxisIndex:xi, yAxisIndex:yi, data:D.haze, symbol:SPECKLE, symbolSize:24,
    symbolRotate:function(v, p){ return (p.dataIndex * 67) % 360; },
    itemStyle:{color:'#2e2e2e', opacity:1}, silent:true, z:2});
  option.series.push({type:'scatter', xAxisIndex:xi, yAxisIndex:yi, data:D.core, symbolSize:22,
    itemStyle:{color:'#585858', opacity:1}, silent:true, z:3});
  option.series.push({type:'scatter', xAxisIndex:xi, yAxisIndex:yi, data:D.sparse, symbolSize:2.4,
    itemStyle:{color:'#3a3a3a'}, silent:true, z:3});
  option.series.push({type:'lines', coordinateSystem:'cartesian2d', xAxisIndex:xi, yAxisIndex:yi, polyline:true,
    data:[{coords:[[gate[0], gate[2]],[gate[1], gate[2]],[gate[1], gate[3]],[gate[0], gate[3]],[gate[0], gate[2]]]}],
    lineStyle:{color:'#333', width:1.3, opacity:1}, silent:true, z:4});
  boxLabel(xi, yi, al[0], al[1], 'A', 15);
}

pairedPanels.forEach(function(D, i){ pairedPanel(pairedLayout[i], D); });
histPanels.forEach(function(D, i){ histPanel(histLayout[i], D, histGates[i], histGateLabels[i]); });
dotPanels.forEach(function(D, i){ dotPanel(dotLayout[i], D, dotGates[i], dotGateLabels[i]); });

// panel letters and column headers
addText(45, 34, 'A', {fontFamily:FN, fontWeight:'bold', fontSize:42, fill:BLUE});
addText(618, 34, 'B', {fontFamily:FN, fontWeight:'bold', fontSize:42, fill:BLUE});
addText(751.6, 92.7, 'Control', {fontFamily:FT, fontSize:25, fill:'#111'});
addText(1056.5, 94, 'Control', {fontFamily:FT, fontSize:25, fill:'#111'});
addText(1414, 21, 'HLA-G (-)', {fontFamily:FT, fontSize:23, fill:'#111'});
addText(1792, 21, 'HLA-G (+)', {fontFamily:FT, fontSize:23, fill:'#111'});

// arrows
function arrow(x1, y1, x2, y2) {
  const a = Math.atan2(y2 - y1, x2 - x1), c = Math.cos(a), s = Math.sin(a);
  const len = 36, half = 13, notch = 24;
  const bx = x2 - len * c, by = y2 - len * s, nx = x2 - notch * c, ny = y2 - notch * s;
  G.push({type:'line', silent:true, z:20, shape:{x1:x1, y1:y1, x2:nx, y2:ny}, style:{stroke:INK, lineWidth:4}});
  G.push({type:'polygon', silent:true, z:20, shape:{points:[[x2, y2],[bx - half * s, by + half * c],[nx, ny],[bx + half * s, by - half * c]]}, style:{fill:INK}});
}
arrow(1075, 606, 1228, 405);
arrow(1073, 668, 1187, 668);
arrow(1073, 1116, 1187, 1116);
arrow(1083, 1548, 1197, 1548);
arrow(1083, 1966, 1197, 1966);

const chart = echarts.init(document.getElementById('chart'), null, {renderer:'canvas', width:2000, height:2154});
chart.setOption(option);
</script>
</body>
</html>
